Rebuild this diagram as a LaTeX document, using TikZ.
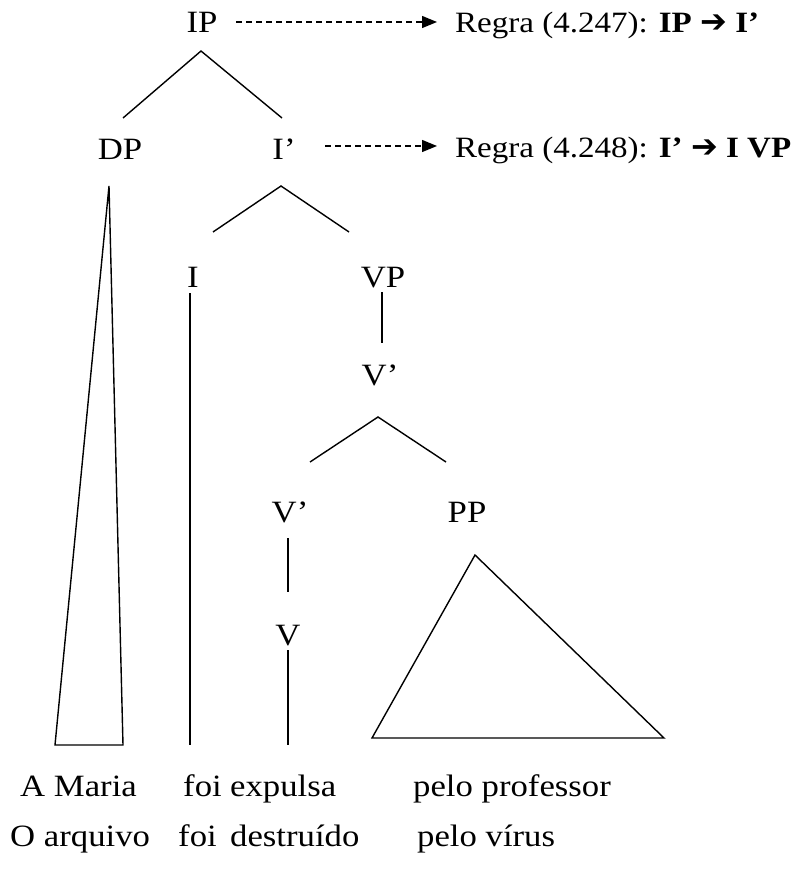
\documentclass[tikz,border=0pt]{standalone}
\usepackage{fontspec}
\setmainfont{Liberation Serif}[FakeStretch=1.12]
\newfontfamily\symfont{DejaVu Sans}
\newcommand{\rarr}{{\symfont\bfseries\fontsize{32}{33}\selectfont ➔}}
\usetikzlibrary{arrows.meta}
\tikzset{
  lbl/.style={inner sep=0pt, anchor=base, font=\fontsize{31}{34}\selectfont},
  rulelbl/.style={inner sep=0pt, anchor=base west, font=\fontsize{29.5}{33}\selectfont},
  word/.style={inner sep=0pt, anchor=base west, font=\fontsize{31}{34}\selectfont},
  branch/.style={line width=1.4pt},
  dasharrow/.style={line width=1.3pt, dash pattern=on 6pt off 4pt, -{Triangle[length=15pt,width=12pt]}}
}
\begin{document}
\begin{tikzpicture}[x=1pt,y=-1pt]
\useasboundingbox (0,0) rectangle (800,869);
% labels
\node[lbl] (IP) at (202,33) {IP};
\node[rulelbl] (r1) at (455,33) {Regra (4.247): \textbf{IP \rarr\ I’}};
\node[lbl] (DP) at (120,160) {DP};
\node[lbl] (Ib) at (284,160) {I’};
\node[rulelbl] (r2) at (455,158) {Regra (4.248): \textbf{I’ \rarr\ I VP}};
\node[lbl] (I) at (193,287) {I};
\node[lbl] (VP) at (383,287) {VP};
\node[lbl] (Vb1) at (380,385) {V’};
\node[lbl] (Vb2) at (290,522) {V’};
\node[lbl] (PP) at (467,522) {PP};
\node[lbl] (V) at (288,645) {V};
% words
\node[word] (w1) at (20,796) {A Maria};
\node[word] (w2) at (183,796) {foi};
\node[word] (w3) at (230,796) {expulsa};
\node[word] (w4) at (413,796) {pelo professor};
\node[word] (w5) at (10,846) {O arquivo};
\node[word] (w6) at (178,846) {foi};
\node[word] (w7) at (230,846) {destruído};
\node[word] (w8) at (417,846) {pelo vírus};
% coordinates
\coordinate (ipa) at (201,51); \coordinate (ipl) at (123,118); \coordinate (ipr) at (282,118);
\coordinate (iba) at (281,186); \coordinate (ibl) at (213,232); \coordinate (ibr) at (349,232);
\coordinate (vba) at (378,417); \coordinate (vbl) at (310,462); \coordinate (vbr) at (446,462);
\coordinate (dpa) at (109,186); \coordinate (dpl) at (55,745); \coordinate (dpr) at (123,745);
\coordinate (it) at (190,293); \coordinate (ib) at (190,745);
\coordinate (vpt) at (382,292); \coordinate (vpb) at (382,343);
\coordinate (v2t) at (288,538); \coordinate (v2b) at (288,592);
\coordinate (vt) at (288,650); \coordinate (vb) at (288,745);
\coordinate (ppa) at (475,555); \coordinate (ppl) at (372,738); \coordinate (ppr) at (664,738);
\coordinate (a1s) at (236,22); \coordinate (a1e) at (437,22);
\coordinate (a2s) at (325,146); \coordinate (a2e) at (437,146);
% connectors
\draw[branch] (ipl) -- (ipa) -- (ipr);
\draw[branch] (ibl) -- (iba) -- (ibr);
\draw[branch] (vbl) -- (vba) -- (vbr);
\draw[branch] (dpa) -- (dpl) -- (dpr) -- cycle;
\draw[branch] (it) -- (ib);
\draw[branch] (vpt) -- (vpb);
\draw[branch] (v2t) -- (v2b);
\draw[branch] (vt) -- (vb);
\draw[branch] (ppa) -- (ppl) -- (ppr) -- cycle;
\draw[dasharrow] (a1s) -- (a1e);
\draw[dasharrow] (a2s) -- (a2e);
\end{tikzpicture}
\end{document}
